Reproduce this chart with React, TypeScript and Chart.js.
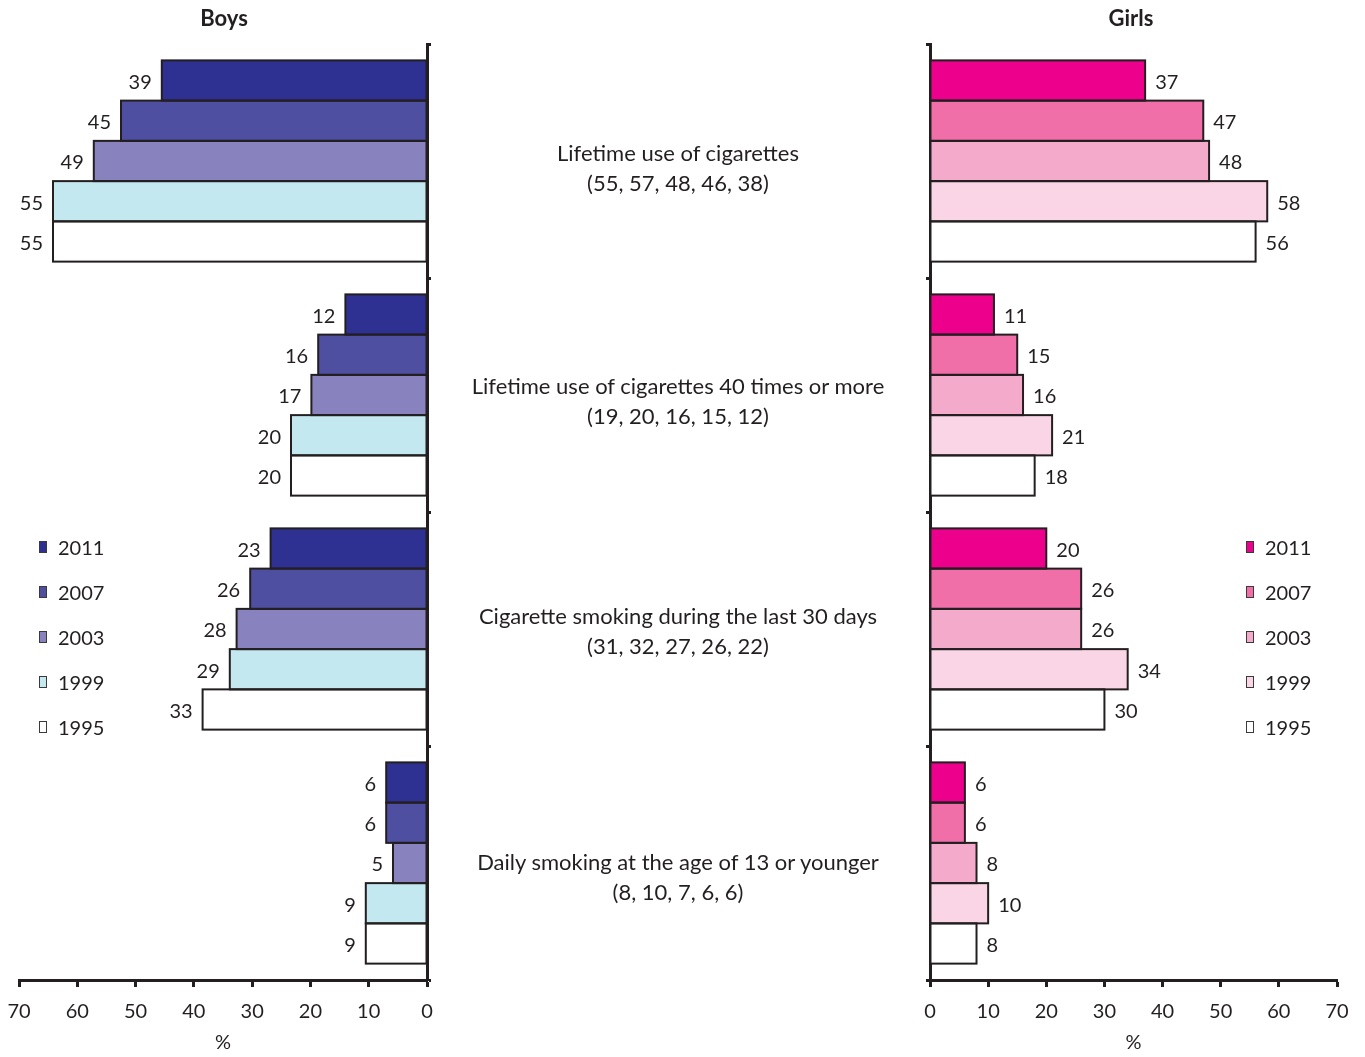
import React, { useEffect, useRef } from "react";
import { Chart, registerables } from "chart.js";

Chart.register(...registerables);

// ---- data ----
const categories = [
  "Lifetime use of cigarettes",
  "Lifetime use of cigarettes 40 times or more",
  "Cigarette smoking during the last 30 days",
  "Daily smoking at the age of 13 or younger",
];
const totals = [
  "(55, 57, 48, 46, 38)",
  "(19, 20, 16, 15, 12)",
  "(31, 32, 27, 26, 22)",
  "(8, 10, 7, 6, 6)",
];
const years = ["2011", "2007", "2003", "1999", "1995"];

const boys2011 = [39, 12, 23, 6];
const boys2007 = [45, 16, 26, 6];
const boys2003 = [49, 17, 28, 5];
const boys1999 = [55, 20, 29, 9];
const boys1995 = [55, 20, 33, 9];

const girls2011 = [37, 11, 20, 6];
const girls2007 = [47, 15, 26, 6];
const girls2003 = [48, 16, 26, 8];
const girls1999 = [58, 21, 34, 10];
const girls1995 = [56, 18, 30, 8];

const axisTickLabels = [0, 10, 20, 30, 40, 50, 60, 70];
// In the original figure the boys' bars are drawn against a 0-60 range while the axis reads 0-70
const boysScaleMax = 60;
const girlsScaleMax = 70;

// ---- styles ----
const boysColors = ["#2e3192", "#4f4fa2", "#8882be", "#c3e8ef", "#ffffff"];
const girlsColors = ["#ec008c", "#f06fa8", "#f4aacb", "#f9d5e5", "#ffffff"];
const INK = "#231f20";
const FONT = "Lato";
const labelCenters = [168, 401, 631, 877];

Chart.defaults.font.family = FONT;
Chart.defaults.color = INK;

const boysSeries = [boys2011, boys2007, boys2003, boys1999, boys1995];
const girlsSeries = [girls2011, girls2007, girls2003, girls1999, girls1995];

function barPlugin(side: "boys" | "girls") {
  return {
    id: "barOutlineAndLabels",
    afterDatasetsDraw(chart: any) {
      const ctx = chart.ctx;
      ctx.save();
      chart.data.datasets.forEach((ds: any, di: number) => {
        const meta = chart.getDatasetMeta(di);
        meta.data.forEach((el: any, i: number) => {
          const { x, y, base, height } = el.getProps(["x", "y", "base", "height"], true);
          const left = Math.min(x, base);
          const w = Math.abs(x - base);
          ctx.lineWidth = 2;
          ctx.strokeStyle = INK;
          ctx.strokeRect(left, y - height / 2, w, height);
          ctx.fillStyle = INK;
          ctx.font = `20px ${FONT}`;
          ctx.textBaseline = "middle";
          if (side === "boys") {
            ctx.textAlign = "right";
            ctx.fillText(String(ds.data[i]), left - 10, y + 2);
          } else {
            ctx.textAlign = "left";
            ctx.fillText(String(ds.data[i]), left + w + 10, y + 2);
          }
        });
      });
      ctx.restore();
    },
  };
}

function buildConfig(side: "boys" | "girls"): any {
  const isBoys = side === "boys";
  const series = isBoys ? boysSeries : girlsSeries;
  const colors = isBoys ? boysColors : girlsColors;
  const max = isBoys ? boysScaleMax : girlsScaleMax;
  return {
    type: "bar",
    data: {
      labels: categories,
      datasets: years.map((yr, i) => ({
        label: yr,
        data: series[i],
        backgroundColor: colors[i],
        borderWidth: 0,
        barPercentage: 1,
        categoryPercentage: 0.86,
      })),
    },
    options: {
      indexAxis: "y",
      responsive: false,
      animation: false,
      layout: {
        padding: isBoys
          ? { top: 44, left: 19, right: 29, bottom: 8 }
          : { top: 44, left: 26, right: 28, bottom: 8 },
      },
      plugins: {
        legend: { display: false },
        title: { display: false },
        tooltip: { enabled: false },
      },
      scales: {
        x: {
          type: "linear",
          min: 0,
          max: max,
          reverse: isBoys,
          position: "bottom",
          afterBuildTicks: (scale: any) => {
            scale.ticks = axisTickLabels.map((_, i) => ({
              value: (i * max) / (axisTickLabels.length - 1),
            }));
          },
          ticks: {
            autoSkip: false,
            maxRotation: 0,
            padding: 13,
            font: { size: 20, family: FONT },
            color: INK,
            callback: (_v: any, i: number) => String(axisTickLabels[i]),
          },
          grid: {
            display: true,
            drawOnChartArea: false,
            drawTicks: true,
            tickLength: 7,
            tickWidth: 3,
            tickColor: INK,
          },
          border: { display: true, width: 3, color: INK },
          title: {
            display: true,
            text: "%",
            font: { size: 20, family: FONT, lineHeight: 0.6 },
            color: INK,
            padding: { top: 0, bottom: 0 },
          },
        },
        y: {
          type: "category",
          position: isBoys ? "right" : "left",
          offset: true,
          ticks: { display: false },
          grid: {
            display: true,
            offset: true,
            drawOnChartArea: false,
            drawTicks: true,
            tickLength: 4,
            tickWidth: 3,
            tickColor: INK,
          },
          border: { display: true, width: 3, color: INK },
        },
      },
    },
    plugins: [barPlugin(side)],
  };
}

function Legend({ colors, left }: { colors: string[]; left: number }) {
  return (
    <div style={{ position: "absolute", left, top: 524.5 }}>
      {years.map((yr, i) => (
        <div key={yr} style={{ height: 45, display: "flex", alignItems: "center" }}>
          <div
            style={{
              width: 8,
              height: 12,
              boxSizing: "border-box",
              border: "1.5px solid #3a3a3a",
              background: colors[i],
              marginRight: 11,
            }}
          />
          <span style={{ fontSize: 20, lineHeight: "24px" }}>{yr}</span>
        </div>
      ))}
    </div>
  );
}

export default function App() {
  const boysRef = useRef<HTMLCanvasElement>(null);
  const girlsRef = useRef<HTMLCanvasElement>(null);

  useEffect(() => {
    const b = new Chart(boysRef.current as HTMLCanvasElement, buildConfig("boys"));
    const g = new Chart(girlsRef.current as HTMLCanvasElement, buildConfig("girls"));
    return () => {
      b.destroy();
      g.destroy();
    };
  }, []);

  return (
    <div
      style={{
        position: "absolute",
        left: 0,
        top: 0,
        width: 1365,
        height: 1057,
        overflow: "hidden",
        background: "#ffffff",
        fontFamily: FONT,
        color: INK,
      }}
    >
      <canvas ref={boysRef} width={460} height={1057} style={{ position: "absolute", left: 0, top: 0 }} />
      <canvas ref={girlsRef} width={465} height={1057} style={{ position: "absolute", left: 900, top: 0 }} />
      <div style={{ position: "absolute", left: 124, width: 200, top: 6, textAlign: "center", fontWeight: 700, fontSize: 22, lineHeight: "24px" }}>
        Boys
      </div>
      <div style={{ position: "absolute", left: 1031, width: 200, top: 6, textAlign: "center", fontWeight: 700, fontSize: 22, lineHeight: "24px" }}>
        Girls
      </div>
      {categories.map((c, i) => (
        <div
          key={c}
          style={{
            position: "absolute",
            left: 418,
            width: 520,
            top: labelCenters[i] - 30,
            textAlign: "center",
            fontSize: 22,
            lineHeight: "30px",
          }}
        >
          <div>{c}</div>
          <div>{totals[i]}</div>
        </div>
      ))}
      <Legend colors={boysColors} left={39} />
      <Legend colors={girlsColors} left={1246} />
    </div>
  );
}
